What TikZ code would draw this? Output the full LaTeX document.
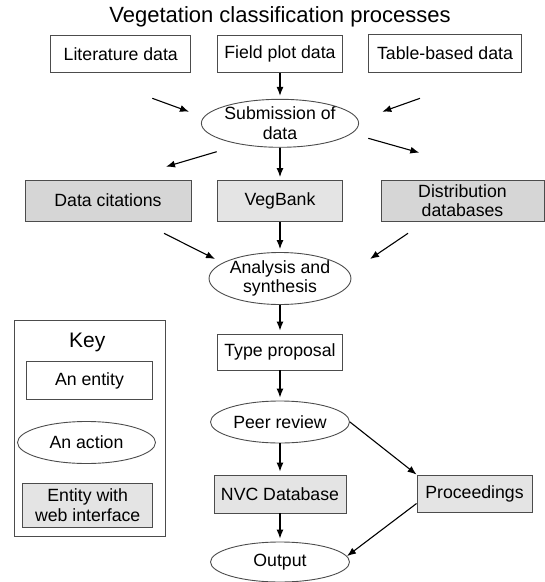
\documentclass[tikz,border=0pt]{standalone}
\usepackage{fontspec}
\setmainfont{Liberation Sans}
\usetikzlibrary{arrows.meta,%
                shapes.geometric,positioning}
\definecolor{webgray}{HTML}{E4E4E4}
\definecolor{dbgray}{HTML}{D6D6D6}
\tikzstyle{entity}=[draw=black!70,line width=0.9pt,inner sep=0pt,minimum height=37pt,align=center,font=\fontsize{17.7}{19.5}\selectfont]
\tikzstyle{web}=[entity,fill=webgray]
\tikzstyle{extdb}=[entity,fill=dbgray]
\tikzstyle{action}=[ellipse,draw=black!70,line width=0.9pt,inner sep=0pt,minimum width=139pt,minimum height=42pt,align=center,font=\fontsize{17.7}{19.5}\selectfont]
\tikzstyle{flow}=[->,line width=1.1pt,shorten >=3pt]

\begin{document}
\begin{tikzpicture}[>={Latex[length=9pt,width=7pt]},x=1pt,y=-1pt]
	\useasboundingbox (0,0) rectangle (545,582);
	%%
	\node (title) at (280,17) [font=\fontsize{22}{24}\selectfont] {Vegetation classification processes};
	  \node (lit) at (120.8,53.7) [entity,minimum width=140pt,minimum height=37.5pt] {Literature data};
	  \node (field) at (280,53.7) [entity,minimum width=125pt,minimum height=37.5pt] {Field plot data};
	  \node (table) at (445,53.5) [entity,minimum width=153pt,minimum height=37.5pt] {Table-based data};
	  \node (sub) at (280,123.3) [action,minimum height=48pt] {Submission of\\data};
	  \node (cit) at (108,200.5) [extdb,minimum width=166pt,minimum height=41pt] {Data citations};
	  \node (veg) at (280,201) [web,minimum width=125pt,minimum height=41pt] {VegBank};
	  \node (dist) at (462.5,200.5) [extdb,minimum width=163pt,minimum height=41pt] {Distribution\\databases};
	  \node (ana) at (280,278.5) [action,minimum height=52pt] {Analysis and\\synthesis};
	  \node (type) at (280,352) [entity,minimum width=125pt,minimum height=36pt] {Type proposal};
	  \node (peer) at (280,422) [action] {Peer review};
	  \node (nvc) at (280,494) [web,minimum width=132pt,minimum height=38pt] {NVC Database};
	  \node (proc) at (474.5,493.5) [web,minimum width=115pt] {Proceedings};
	  \node (out) at (280,562) [action,minimum height=40pt] {Output};
	%% key
	  \node (key) at (89.7,428.3) [draw=black!70,line width=0.9pt,minimum width=150.7pt,minimum height=215.3pt] {};
	  \node (keylabel) at (87.3,342.3) [font=\fontsize{21}{24}\selectfont] {Key};
	  \node (kentity) at (89.5,380.5) [entity,minimum width=125.6pt,minimum height=37.6pt] {An entity};
	  \node (kaction) at (86.5,442.5) [action,minimum width=138pt] {An action};
	  \node (kweb) at (87.7,505.3) [web,minimum width=130pt,minimum height=44pt] {Entity with\\web interface};
	%% loose arrows
	  \coordinate (lit-a) at (152.3,98.3);
	  \coordinate (lit-b) at (189,111.7);
	  \coordinate (tab-a) at (420,98.3);
	  \coordinate (tab-b) at (382.3,111.7);
	  \coordinate (cit-a) at (216.7,151.7);
	  \coordinate (cit-b) at (166,166.7);
	  \coordinate (dist-a) at (368.3,138.3);
	  \coordinate (dist-b) at (419.3,152.7);
	  \coordinate (cit-c) at (164,233.3);
	  \coordinate (cit-d) at (215,259);
	  \coordinate (dist-c) at (408,233.3);
	  \coordinate (dist-d) at (370,259);
	  \draw [->,line width=1.1pt] (lit-a) -- (lit-b);
	  \draw [->,line width=1.1pt] (tab-a) -- (tab-b);
	  \draw [->,line width=1.1pt] (cit-a) -- (cit-b);
	  \draw [->,line width=1.1pt] (dist-a) -- (dist-b);
	  \draw [->,line width=1.1pt] (cit-c) -- (cit-d);
	  \draw [->,line width=1.1pt] (dist-c) -- (dist-d);
	%% main flow
	  \draw [flow] (field) -- (sub);
	  \draw [flow] (sub) -- (veg);
	  \draw [flow] (veg) -- (ana);
	  \draw [flow] (ana) -- (type);
	  \draw [flow] (type) -- (peer);
	  \draw [flow] (peer) -- (nvc);
	  \draw [flow] (nvc) -- (out);
	  \draw [->,line width=1.1pt] (peer.east) -- (proc.north west);
	  \draw [->,line width=1.1pt] ([yshift=-10pt]proc.west) -- (out.5);
	%
\end{tikzpicture}
\end{document}
